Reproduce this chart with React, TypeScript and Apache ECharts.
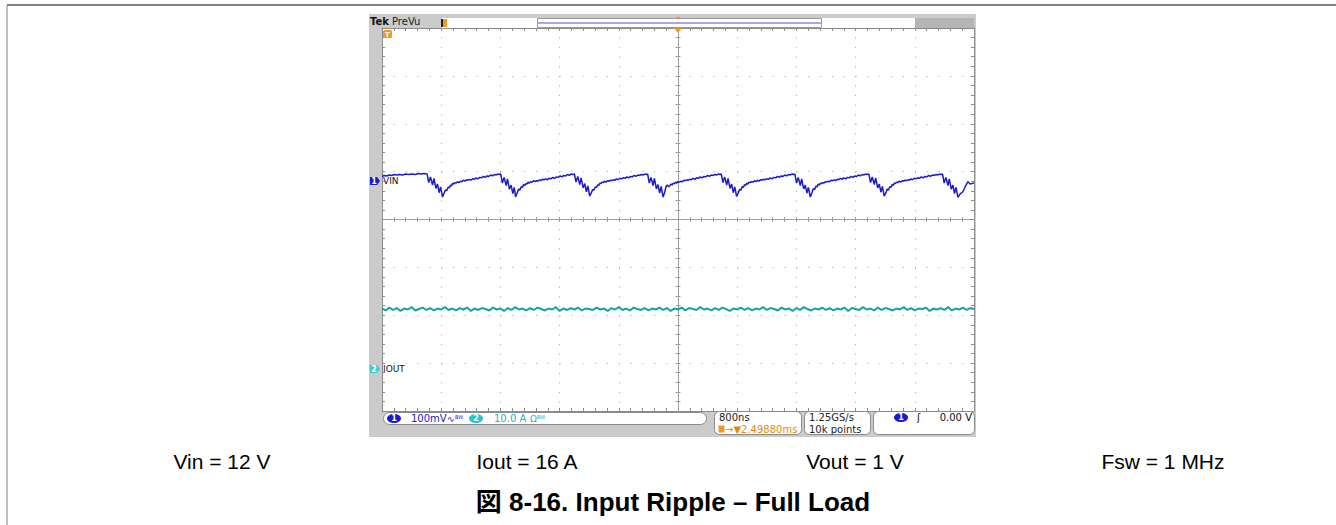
import React, { useEffect, useRef } from "react";
import * as echarts from "echarts";

// ---------- data read from the scope capture ----------
const timeMinNs = 0;
const timeMaxNs = 8000;
const timePerDivNs = 800;
const ch1MvPerDiv = 100;
const ch2APerDiv = 10;
const ch1MarkerDiv = 0.8; // channel 1 reference marker (divisions above centre)
const ch2MarkerDiv = -3.12; // channel 2 reference marker (divisions above centre)

// VIN ripple (ns, mV relative to channel-1 marker)
const vinTrace: [number, number][] = [
  [0, 10], [30, 12], [60, 11], [100, 13], [130, 12], [170, 14], [200, 13], [240, 14], [280, 13], [320, 15],
  [360, 14], [400, 15], [450, 14], [490, 16], [530, 15], [570, 16], [610, 15],
  // cycle 1
  [632, -3], [655, 9], [683, -8], [702, 6], [728, -15], [750, -6], [772, -24], [792, -12], [818, -33],
  [842, -24], [860, -18], [875, -20], [895, -12], [910, -14], [925, -8], [940, -10], [955, -4], [970, -6],
  [985, -3], [1000, -4], [1020, -1], [1040, -3], [1060, 0], [1080, -1], [1100, 2], [1120, 0], [1140, 3],
  [1160, 2], [1180, 4], [1200, 2], [1225, 5], [1250, 4], [1270, 7], [1295, 5], [1320, 8], [1345, 7],
  [1370, 10], [1395, 8], [1420, 11], [1445, 10], [1470, 13], [1495, 11], [1520, 14], [1545, 13], [1565, 15],
  [1585, 14], [1605, 15],
  // cycle 2
  [1627, -4], [1650, 8], [1678, -9], [1696, 5], [1722, -17], [1745, -8], [1768, -26], [1787, -13], [1805, -33],
  [1830, -23], [1848, -16], [1863, -19], [1883, -11], [1898, -13], [1913, -7], [1928, -9], [1943, -5], [1958, -6],
  [1973, -2], [1988, -4], [2008, -1], [2028, -2], [2048, 1], [2068, -1], [2088, 1], [2108, 0], [2128, 3],
  [2148, 1], [2168, 4], [2188, 3], [2213, 5], [2238, 3], [2258, 6], [2283, 5], [2308, 8], [2333, 6],
  [2358, 9], [2383, 8], [2408, 11], [2433, 9], [2458, 12], [2483, 11], [2508, 14], [2533, 12], [2553, 15],
  [2578, 14], [2600, 15],
  // cycle 3
  [2622, -2], [2645, 10], [2673, -7], [2691, 7], [2718, -14], [2740, -5], [2762, -22], [2782, -10], [2806, -31],
  [2830, -24], [2848, -17], [2863, -19], [2883, -12], [2898, -13], [2913, -8], [2928, -9], [2943, -4], [2958, -5],
  [2973, -2], [2988, -3], [3008, 0], [3028, -2], [3048, 1], [3068, 0], [3088, 2], [3108, 1], [3128, 3],
  [3148, 2], [3168, 5], [3188, 3], [3213, 6], [3238, 5], [3258, 7], [3283, 6], [3308, 9], [3333, 7],
  [3358, 10], [3383, 9], [3408, 12], [3433, 10], [3458, 13], [3483, 12], [3508, 14], [3533, 13], [3553, 15],
  [3573, 14], [3590, 15],
  // cycle 4
  [3612, -4], [3635, 8], [3663, -9], [3681, 6], [3708, -16], [3730, -7], [3752, -25], [3772, -11], [3798, -33],
  [3822, -22], [3840, -10], [3855, -8], [3872, -12], [3890, -9], [3905, -6], [3920, -8], [3935, -4], [3950, -5],
  [3965, -3], [3980, -4], [4000, -1], [4020, -2], [4040, 0], [4060, -1], [4080, 2], [4100, 1], [4120, 3],
  [4140, 2], [4160, 4], [4180, 3], [4205, 6], [4230, 4], [4250, 7], [4275, 6], [4300, 9], [4325, 7],
  [4350, 10], [4375, 9], [4400, 12], [4425, 10], [4450, 13], [4475, 12], [4500, 14], [4525, 13], [4545, 15],
  [4565, 14], [4585, 15],
  // cycle 5
  [4607, -3], [4630, 9], [4658, -8], [4676, 6], [4703, -15], [4725, -6], [4747, -24], [4767, -12], [4792, -32],
  [4816, -24], [4834, -17], [4849, -19], [4869, -11], [4884, -13], [4899, -7], [4914, -9], [4929, -4], [4944, -6],
  [4959, -2], [4974, -3], [4994, -1], [5014, -2], [5034, 1], [5054, -1], [5074, 2], [5094, 0], [5114, 3],
  [5134, 2], [5154, 4], [5174, 3], [5199, 5], [5224, 4], [5244, 7], [5269, 5], [5294, 8], [5319, 7],
  [5344, 10], [5369, 8], [5394, 11], [5419, 10], [5444, 13], [5469, 11], [5494, 14], [5519, 13], [5539, 15],
  [5559, 14], [5580, 15],
  // cycle 6
  [5602, -4], [5625, 8], [5653, -9], [5671, 5], [5698, -16], [5720, -8], [5742, -25], [5762, -13], [5788, -33],
  [5812, -23], [5830, -15], [5845, -18], [5865, -10], [5880, -12], [5895, -6], [5910, -8], [5925, -4], [5940, -5],
  [5955, -3], [5970, -4], [5990, -1], [6010, -2], [6030, 0], [6050, -1], [6070, 2], [6090, 1], [6110, 3],
  [6130, 1], [6150, 4], [6170, 3], [6195, 6], [6220, 4], [6240, 7], [6265, 5], [6290, 8], [6315, 7],
  [6340, 10], [6365, 8], [6390, 11], [6415, 10], [6440, 13], [6465, 11], [6490, 14], [6515, 13], [6535, 15],
  [6555, 14], [6580, 15],
  // cycle 7
  [6602, -3], [6625, 9], [6653, -7], [6671, 7], [6698, -14], [6720, -6], [6742, -23], [6762, -11], [6786, -31],
  [6810, -24], [6828, -16], [6843, -19], [6863, -11], [6878, -13], [6893, -7], [6908, -9], [6923, -4], [6938, -5],
  [6953, -2], [6968, -3], [6988, 0], [7008, -2], [7028, 1], [7048, 0], [7068, 2], [7088, 1], [7108, 3],
  [7128, 2], [7148, 5], [7168, 3], [7193, 6], [7218, 5], [7238, 7], [7263, 6], [7288, 9], [7313, 7],
  [7338, 10], [7363, 9], [7388, 12], [7413, 10], [7438, 13], [7463, 12], [7488, 14], [7513, 13], [7533, 15],
  [7553, 14], [7575, 15],
  // cycle 8 (partial)
  [7597, -4], [7620, 8], [7648, -9], [7666, 5], [7693, -17], [7715, -8], [7737, -26], [7757, -13], [7783, -34],
  [7810, -27], [7850, -22], [7880, -12], [7918, -1], [7950, -6], [7990, -4], [8000, -3],
];

// IOUT (A relative to channel-2 marker), one sample every ioutSampleNs
const ioutSampleNs = 50;
const ioutValues = [
  12.6, 12.2, 12.8, 12.3, 12.7, 12.1, 12.6, 12.4, 12.9, 12.2, 12.5, 12.8, 12.3, 12.7, 12.2, 12.6, 12.4, 12.9, 12.3, 12.6,
  12.2, 12.7, 12.4, 12.8, 12.1, 12.6, 12.3, 12.7, 12.5, 12.2, 12.8, 12.4, 12.6, 12.1, 12.7, 12.3, 12.9, 12.4, 12.6, 12.2,
  12.7, 12.3, 12.8, 12.5, 12.2, 12.6, 12.4, 12.9, 12.1, 12.6, 12.3, 12.7, 12.4, 12.8, 12.2, 12.6, 12.5, 12.3, 12.8, 12.4,
  12.6, 12.1, 12.7, 12.4, 12.9, 12.3, 12.6, 12.2, 12.8, 12.5, 12.3, 12.7, 12.2, 12.6, 12.4, 12.8, 12.3, 12.7, 12.1, 12.6,
  12.4, 12.8, 12.2, 12.7, 12.5, 12.3, 12.9, 12.4, 12.6, 12.2, 12.7, 12.3, 12.8, 12.5, 12.1, 12.6, 12.4, 12.8, 12.3, 12.7,
  12.2, 12.6, 12.4, 12.9, 12.3, 12.7, 12.5, 12.2, 12.8, 12.4, 12.6, 12.1, 12.7, 12.3, 12.9, 12.5, 12.2, 12.6, 12.4, 12.8,
  12.3, 12.7, 12.2, 12.6, 12.4, 12.8, 12.1, 12.7, 12.5, 12.3, 12.9, 12.4, 12.6, 12.2, 12.8, 12.3, 12.7, 12.5, 12.2, 12.6,
  12.4, 12.9, 12.3, 12.7, 12.2, 12.6, 12.5, 12.8, 12.1, 12.6, 12.4, 12.7, 12.3, 12.9, 12.2, 12.6, 12.4, 12.8, 12.3, 12.7,
  12.5,
];

const conditionLabels = ["Vin = 12 V", "Iout = 16 A", "Vout = 1 V", "Fsw = 1 MHz"];
const figureTitle = "図 8-16. Input Ripple – Full Load";
const ch1Name = "VIN";
const ch2Name = "IOUT";
const ch1ScaleText = "100mV";
const ch2ScaleText = "10.0 A";
const timebaseText = "800ns";
const triggerPosText = "→▼2.49880ms";
const sampleRateText = "1.25GS/s";
const recordText = "10k points";
const triggerLevelText = "0.00 V";

// ---------- styling ----------
const SCOPE_FONT = '"DejaVu Sans", sans-serif';
const DOC_FONT = '"Liberation Sans", Arial, "Noto Sans CJK JP", sans-serif';
const BORDER = "#8c8c8c";
const GRID_DOT = "#a4a4a4";
const ORANGE = "#f29a1f";
const CH1 = "#1c1cc8";
const CH2 = "#17a3a6";

function buildOption() {
  const ch1Min = (-4 - ch1MarkerDiv) * ch1MvPerDiv;
  const ch1Max = (4 - ch1MarkerDiv) * ch1MvPerDiv;
  const ch2Min = (-4 - ch2MarkerDiv) * ch2APerDiv;
  const ch2Max = (4 - ch2MarkerDiv) * ch2APerDiv;
  const ioutData = ioutValues.map((v, i) => [i * ioutSampleNs, v]);

  const borderAxisCommon = {
    axisLabel: { show: false },
    axisLine: { show: true, onZero: false, lineStyle: { color: BORDER, width: 1 } },
    axisTick: { show: true, inside: true, length: 3, lineStyle: { color: BORDER } },
    minorTick: { show: true, splitNumber: 5, length: 3, lineStyle: { color: BORDER } },
  };
  const centreAxis = (dir: boolean, zeroIdx: number) => ({
    axisLabel: { show: false },
    splitLine: { show: false },
    axisLine: { show: true, onZero: true, onZeroAxisIndex: zeroIdx, lineStyle: { color: "#9c9c9c", width: 1 } },
    axisTick: { show: true, inside: dir, length: 2.5, lineStyle: { color: "#9c9c9c" } },
    minorTick: { show: true, splitNumber: 5, length: 2.5, lineStyle: { color: "#9c9c9c" } },
  });

  const t = (text: string, x: number, y: number, fill: string, size: number, extra: any = {}) => ({
    type: "text",
    z: 50,
    silent: true,
    style: {
      text, x, y, fill,
      fontSize: size,
      fontFamily: extra.family || SCOPE_FONT,
      fontWeight: extra.weight || "normal",
      textAlign: extra.align || "left",
      align: extra.align || "left",
      textVerticalAlign: "middle",
      verticalAlign: "middle",
    },
  });

  const graphics: any[] = [
    // figure frame
    { type: "line", z: 1, shape: { x1: 7, y1: 5, x2: 1336, y2: 5 }, style: { stroke: "#808080", lineWidth: 2 } },
    { type: "line", z: 1, shape: { x1: 7, y1: 5, x2: 7, y2: 525 }, style: { stroke: "#808080", lineWidth: 1 } },
    // scope background
    { type: "rect", z: -10, shape: { x: 369, y: 14, width: 607, height: 423 }, style: { fill: "#cbcbcb" } },
    { type: "rect", z: -9, shape: { x: 915, y: 18, width: 59, height: 10 }, style: { fill: "#b4b4b4" } },
    { type: "rect", z: -9, shape: { x: 442, y: 18, width: 473, height: 10 }, style: { fill: "#ffffff" } },
    { type: "rect", z: -8, shape: { x: 537.5, y: 18.5, width: 284, height: 9 }, style: { fill: "#ffffff", stroke: "#9a9a9a", lineWidth: 1 } },
    { type: "line", z: -7, shape: { x1: 538, y1: 23, x2: 821, y2: 23 }, style: { stroke: "#5050d4", lineWidth: 1.2 } },
    { type: "polygon", z: 40, shape: { points: [[675, 17], [681, 17], [678, 20]] }, style: { fill: ORANGE } },
    { type: "polygon", z: 40, shape: { points: [[674, 28], [682, 28], [678, 33]] }, style: { fill: ORANGE } },
    { type: "rect", z: 40, shape: { x: 441, y: 19, width: 6, height: 8 }, style: { fill: ORANGE } },
    { type: "rect", z: 41, shape: { x: 441, y: 19, width: 2, height: 8 }, style: { fill: "#222" } },
    t("Tek", 370, 21, "#111", 10, { weight: "bold" }),
    t("PreVu", 392, 21, "#222", 10),
    // trigger marker in plot
    { type: "rect", z: 40, shape: { x: 383, y: 30, width: 9, height: 8, r: 1.5 }, style: { fill: ORANGE } },
    t("T", 387.5, 34.5, "#fff", 7, { weight: "bold", align: "center" }),
    // channel markers
    { type: "polygon", z: 40, shape: { points: [[370, 177], [377, 177], [380, 181], [377, 185], [370, 185]] }, style: { fill: "#1a1ad0" } },
    t("1", 374, 181.5, "#fff", 8, { weight: "bold", align: "center" }),
    t(ch1Name, 383, 181, "#111", 9),
    { type: "polygon", z: 40, shape: { points: [[370, 365], [377, 365], [380, 369], [377, 373], [370, 373]] }, style: { fill: "#3ccad4" } },
    t("2", 374, 369.5, "#fff", 8, { weight: "bold", align: "center" }),
    t(ch2Name, 383, 369, "#111", 9),
    // status bar
    { type: "rect", z: 30, shape: { x: 383.5, y: 412.5, width: 323, height: 12, r: 6 }, style: { fill: "#fff", stroke: "#8a8a8a", lineWidth: 1 } },
    { type: "ellipse", z: 31, shape: { cx: 394, cy: 418.5, rx: 7, ry: 4.5 }, style: { fill: "#1a1ad2" } },
    t("1", 394, 418.5, "#fff", 8, { weight: "bold", align: "center" }),
    t(ch1ScaleText, 411, 418.5, "#2222d0", 10),
    t("∿", 447, 418.5, "#2222d0", 9),
    t("BW", 455, 417, "#2222d0", 5),
    { type: "ellipse", z: 31, shape: { cx: 476, cy: 418.5, rx: 7, ry: 4.5 }, style: { fill: "#2cc4cc" } },
    t("2", 476, 418.5, "#fff", 8, { weight: "bold", align: "center" }),
    t(ch2ScaleText, 494, 418.5, "#22b4c4", 10),
    t("Ω", 530, 418.5, "#22b4c4", 9),
    t("BW", 537, 417, "#22b4c4", 5),
    { type: "rect", z: 30, shape: { x: 714.5, y: 411.5, width: 87, height: 23, r: 5 }, style: { fill: "#fff", stroke: "#8a8a8a", lineWidth: 1 } },
    t(timebaseText, 719, 417, "#222", 10),
    { type: "rect", z: 31, shape: { x: 718.5, y: 425.5, width: 6, height: 7 }, style: { fill: ORANGE } },
    t(triggerPosText, 725, 429, "#e8890f", 10),
    { type: "rect", z: 30, shape: { x: 804.5, y: 411.5, width: 66, height: 23, r: 5 }, style: { fill: "#fff", stroke: "#8a8a8a", lineWidth: 1 } },
    t(sampleRateText, 809, 417, "#222", 10),
    t(recordText, 809, 429, "#222", 10),
    { type: "rect", z: 30, shape: { x: 873.5, y: 411.5, width: 101, height: 23, r: 5 }, style: { fill: "#fff", stroke: "#8a8a8a", lineWidth: 1 } },
    { type: "ellipse", z: 31, shape: { cx: 901, cy: 417.5, rx: 7, ry: 4.5 }, style: { fill: "#1a1ad2" } },
    t("1", 901, 417.5, "#fff", 8, { weight: "bold", align: "center" }),
    t("ʃ", 917, 417.5, "#111", 10),
    t(triggerLevelText, 972, 417.5, "#111", 10, { align: "right" }),
    // document texts
    t(conditionLabels[0], 222, 461, "#000", 21, { family: DOC_FONT, align: "center" }),
    t(conditionLabels[1], 527, 461, "#000", 21, { family: DOC_FONT, align: "center" }),
    t(conditionLabels[2], 855, 461, "#000", 21, { family: DOC_FONT, align: "center" }),
    t(conditionLabels[3], 1163, 461, "#000", 21, { family: DOC_FONT, align: "center" }),
    t(figureTitle, 673, 502, "#000", 26, { family: DOC_FONT, align: "center", weight: "bold" }),
  ];

  return {
    animation: false,
    grid: { left: 382, top: 28, width: 592, height: 383, show: true, backgroundColor: "#ffffff", borderWidth: 0, containLabel: false },
    xAxis: [
      {
        type: "value", min: timeMinNs, max: timeMaxNs, interval: timePerDivNs, position: "bottom",
        ...borderAxisCommon,
        splitLine: { show: true, lineStyle: { color: GRID_DOT, width: 1, type: [1, 8.58] } },
      },
      { type: "value", min: timeMinNs, max: timeMaxNs, interval: timePerDivNs, position: "top", ...borderAxisCommon, splitLine: { show: false } },
      { type: "value", min: -5, max: 5, interval: 1, position: "bottom", ...centreAxis(true, 2) },
      { type: "value", min: -5, max: 5, interval: 1, position: "bottom", ...centreAxis(false, 2) },
    ],
    yAxis: [
      { type: "value", min: ch1Min, max: ch1Max, show: false },
      { type: "value", min: ch2Min, max: ch2Max, show: false },
      {
        type: "value", min: -4, max: 4, interval: 1, position: "left",
        ...borderAxisCommon,
        splitLine: { show: true, lineStyle: { color: GRID_DOT, width: 1, type: [1, 10.84] } },
      },
      { type: "value", min: -4, max: 4, interval: 1, position: "right", ...borderAxisCommon, splitLine: { show: false } },
      { type: "value", min: -4, max: 4, interval: 1, position: "left", ...centreAxis(true, 2) },
      { type: "value", min: -4, max: 4, interval: 1, position: "left", ...centreAxis(false, 2) },
    ],
    series: [
      {
        name: ch2Name, type: "line", xAxisIndex: 0, yAxisIndex: 1, data: ioutData,
        showSymbol: false, symbol: "none", silent: true, z: 5,
        lineStyle: { color: CH2, width: 2 },
      },
      {
        name: ch1Name, type: "line", xAxisIndex: 0, yAxisIndex: 0, data: vinTrace,
        showSymbol: false, symbol: "none", silent: true, z: 6,
        lineStyle: { color: CH1, width: 1.5 },
      },
    ],
    graphic: { elements: graphics },
  };
}

export default function App() {
  const ref = useRef<HTMLDivElement>(null);
  useEffect(() => {
    if (!ref.current) return;
    const chart = echarts.init(ref.current, null, { renderer: "svg" });
    chart.setOption(buildOption() as any);
    return () => chart.dispose();
  }, []);
  return (
    <div
      ref={ref}
      style={{ position: "absolute", left: 0, top: 0, width: 1336, height: 525, background: "#ffffff" }}
    />
  );
}
